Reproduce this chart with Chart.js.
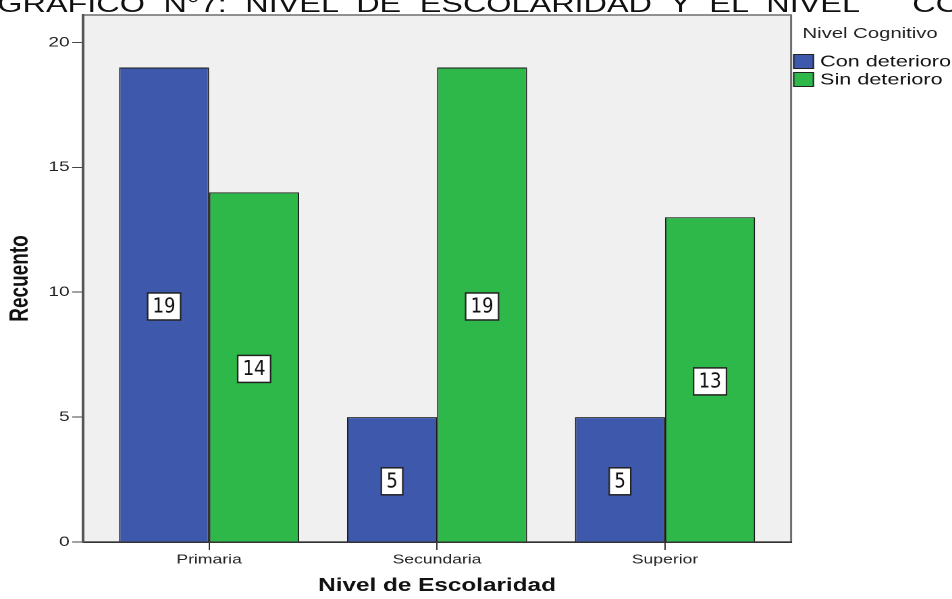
<!DOCTYPE html>
<html lang="es">
<head>
<meta charset="utf-8">
<title>Nivel de Escolaridad y Nivel Cognitivo</title>
<script src="https://cdn.jsdelivr.net/npm/chart.js@4.4.1/dist/chart.umd.min.js"></script>
<style>
  html, body { margin: 0; padding: 0; background: #fff; overflow: hidden; }
  /* the SPSS export is stretched sideways, so the whole figure is drawn 705 wide and widened */
  #wrap { position: relative; width: 705px; height: 599px; transform: scaleX(1.3504); transform-origin: 0 0; }
  #titulo { position: absolute; left: -2px; top: -8px; white-space: nowrap;
            font: 24px/24px "Liberation Sans", Arial, sans-serif; word-spacing: 7px; color: #111; }
  #titulo span { margin-left: 26px; }
  #box { position: absolute; left: 0; top: 0; width: 705px; height: 599px; }
</style>
</head>
<body>
<div id="wrap">
  <div id="titulo">GRÁFICO N°7: NIVEL DE ESCOLARIDAD Y EL NIVEL <span>COGNITIVO</span></div>
  <div id="box"><canvas id="grafico"></canvas></div>
</div>
<script>
// Gráfico N°7 — nivel de escolaridad vs nivel cognitivo

const STRETCH = 952 / 705;

const CATEGORIES = ["Primaria", "Secundaria", "Superior"];
const SERIES_LABELS = ["Con deterioro", "Sin deterioro"];
const CON_DETERIORO = [19, 5, 5];
const SIN_DETERIORO = [14, 19, 13];
const Y_TICKS = [0, 5, 10, 15, 20];
const LEGEND_TITLE = "Nivel Cognitivo";

const COLORS = ["#3e58ac", "#2fb84a"];
const FONT = '"Liberation Sans", Arial, sans-serif';

Chart.defaults.font.family = FONT;
Chart.defaults.color = "#222";

// grey plot background + thin frame (axes are drawn over the left/bottom edges)
const fondo = {
    id: "fondo",
    beforeDraw(chart) {
        const { ctx, chartArea: a } = chart;
        ctx.save();
        ctx.fillStyle = "#f0f0f0";
        ctx.fillRect(a.left, a.top, a.width, a.height);
        ctx.strokeStyle = "#6e6e6e";
        ctx.lineWidth = 1.5;
        ctx.strokeRect(a.left, a.top, a.width, a.height);
        ctx.restore();
    }
};

// white boxed counts in the middle of each bar
const etiquetas = {
    id: "etiquetas",
    afterDatasetsDraw(chart) {
        const ctx = chart.ctx;
        chart.data.datasets.forEach((ds, d) => {
            chart.getDatasetMeta(d).data.forEach((bar, i) => {
                const txt = String(ds.data[i]);
                const cy = (bar.y + bar.base) / 2 + 2;
                ctx.save();
                ctx.translate(bar.x, cy);
                ctx.scale(1 / STRETCH, 1);
                ctx.font = '20px "Liberation Sans Narrow", "DejaVu Sans Condensed", sans-serif';
                const w = ctx.measureText(txt).width + 10;
                const h = 27;
                ctx.fillStyle = "#fff";
                ctx.fillRect(-w / 2, -h / 2, w, h);
                ctx.strokeStyle = "#222";
                ctx.lineWidth = 1.5;
                ctx.strokeRect(-w / 2, -h / 2, w, h);
                ctx.fillStyle = "#111";
                ctx.textAlign = "center";
                ctx.textBaseline = "middle";
                ctx.fillText(txt, 0, 1);
                ctx.restore();
            });
        });
    }
};

const leyenda = {
    id: "leyenda",
    afterDraw(chart) {
        const ctx = chart.ctx;
        const x0 = chart.chartArea.right + 1.5;
        ctx.save();
        ctx.textAlign = "left";
        ctx.textBaseline = "middle";
        ctx.fillStyle = "#222";
        ctx.font = `15px ${FONT}`;
        ctx.fillText(LEGEND_TITLE, x0 + 7, 34);
        chart.data.datasets.forEach((ds, i) => {
            const y = 54 + i * 18;
            ctx.fillStyle = ds.backgroundColor;
            ctx.fillRect(x0, y, 15.5, 15);
            ctx.strokeStyle = "#222";
            ctx.lineWidth = 1;
            ctx.strokeRect(x0 + 0.5, y + 0.5, 14.5, 14);
            ctx.fillStyle = "#111";
            ctx.font = `16px ${FONT}`;
            ctx.fillText(ds.label, x0 + 20, y + 8);
        });
        ctx.restore();
    }
};

new Chart(document.getElementById("grafico"), {
    type: "bar",
    data: {
        labels: CATEGORIES.map((c, i) => i),
        datasets: [
            { label: SERIES_LABELS[0], data: CON_DETERIORO, backgroundColor: COLORS[0], borderColor: "#1b1b1b", borderWidth: 1 },
            { label: SERIES_LABELS[1], data: SIN_DETERIORO, backgroundColor: COLORS[1], borderColor: "#1b1b1b", borderWidth: 1 }
        ]
    },
    options: {
        responsive: true,
        maintainAspectRatio: false,
        animation: false,
        devicePixelRatio: 2,
        categoryPercentage: 0.79,
        barPercentage: 1,
        layout: { padding: { top: 15, right: 119.2, left: 0, bottom: 0 } },
        plugins: {
            legend: { display: false },
            tooltip: { enabled: false }
        },
        scales: {
            x: {
                type: "linear",
                min: -0.553,
                max: 2.553,
                offset: false,
                afterBuildTicks: s => { s.ticks = CATEGORIES.map((c, i) => ({ value: i })); },
                afterFit: s => { s.height = 57; },
                ticks: {
                    callback: v => CATEGORIES[v],
                    font: { size: 13 },
                    color: "#222",
                    padding: 2,
                    maxRotation: 0,
                    autoSkip: false
                },
                grid: { offset: false, drawOnChartArea: false, tickLength: 8, tickColor: "#333" },
                border: { color: "#333", width: 1.5 },
                title: {
                    display: true,
                    text: "Nivel de Escolaridad",
                    font: { size: 18, weight: "bold" },
                    color: "#111",
                    padding: { top: 0, bottom: 2 }
                }
            },
            y: {
                min: 0,
                max: 21.1,
                afterBuildTicks: s => { s.ticks = Y_TICKS.map(v => ({ value: v })); },
                afterFit: s => { s.width = 61.5; },
                ticks: { font: { size: 14 }, color: "#222", padding: 2 },
                grid: { drawOnChartArea: false, tickLength: 8, tickColor: "#444" },
                border: { color: "#555", width: 2 },
                title: {
                    display: true,
                    text: "Recuento",
                    font: { size: 19, weight: "bold" },
                    color: "#111",
                    padding: { top: 4, bottom: 0 }
                }
            }
        }
    },
    plugins: [fondo, etiquetas, leyenda]
});
</script>
</body>
</html>
